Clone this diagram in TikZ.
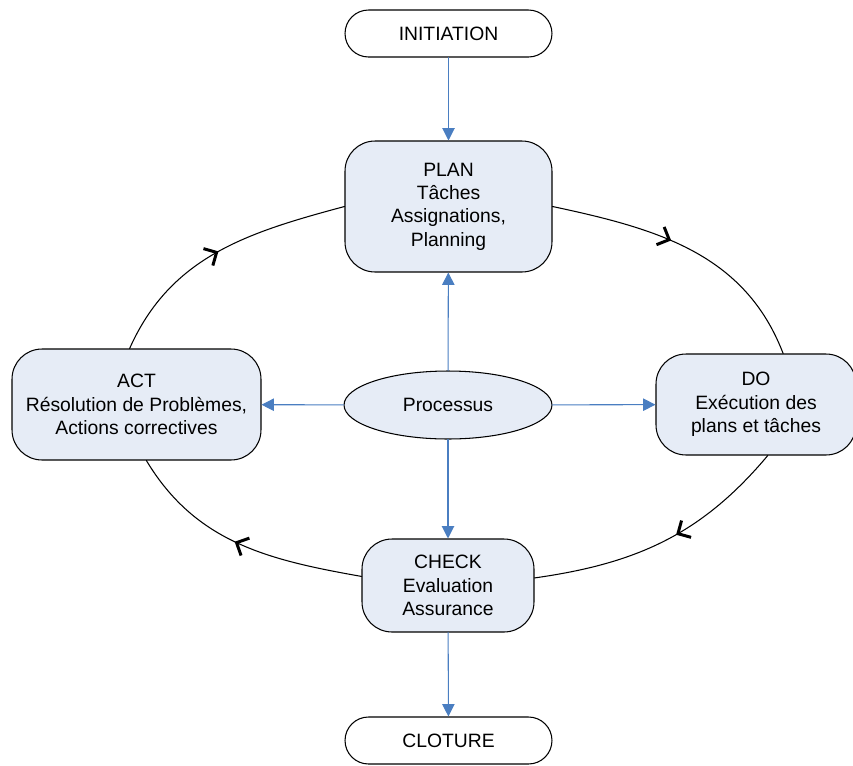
\documentclass[tikz,border=0pt]{standalone}
\usepackage{fontspec}
\setmainfont{Liberation Sans}
\usetikzlibrary{arrows.meta,shapes.geometric,decorations.markings}
\definecolor{boxfill}{RGB}{230,236,246}
\definecolor{linkblue}{RGB}{74,126,193}

\begin{document}
\begin{tikzpicture}[line cap=round,line join=round,x=0.02cm,y=-0.02cm,
  every node/.style={font=\fontsize{11}{13.3}\selectfont,align=center,inner sep=0pt,line width=0.6pt},
  endbox/.style={draw,rounded corners=0.47cm,minimum width=4.14cm,minimum height=0.94cm},
  phase/.style={draw,fill=boxfill,rounded corners=0.6cm},
  link/.style={draw=linkblue,line width=0.6pt,-{Triangle[length=7pt,width=7pt]}},
  loopedge/.style={draw,line width=0.6pt,postaction={decorate},
    decoration={markings,mark=at position #1 with {\arrow{Straight Barb[length=5.5pt,width=11pt,line width=1.7pt]}}}}]

\useasboundingbox (0,0) rectangle (853,765);

\node[endbox] (init) at (448.5,33.5) {INITIATION};
\node[phase,minimum width=4.14cm,minimum height=2.62cm] (plan) at (448.5,206.5) {PLAN\\Tâches\\Assignations,\\Planning};
\node[phase,minimum width=4cm,minimum height=2.02cm] (do) at (756,404.5) {DO\\Exécution des\\plans et tâches};
\node[phase,minimum width=4.98cm,minimum height=2.22cm] (act) at (136.5,404.5) {ACT\\Résolution de Problèmes,\\Actions correctives};
\node[phase,minimum width=3.44cm,minimum height=1.86cm] (check) at (448,585.5) {CHECK\\Evaluation\\Assurance};
\node[endbox] (clot) at (448.5,740.5) {CLOTURE};
\node[ellipse,draw,fill=boxfill,minimum width=4.16cm,minimum height=1.36cm] (proc) at (448,405) {Processus};

\draw[loopedge=0.5] (act.97) to[out=66,in=195] (plan.west);
\draw[loopedge=0.43] (plan.east) to[out=-12,in=111] (do.62);
\draw[loopedge=0.45] (do.-77) to[out=-130,in=8] (check.5);
\draw[loopedge=0.52] (check.174) to[out=170,in=-59] (act.-80);

\draw[link] (init) -- (plan);
\draw[link] (proc) -- (plan);
\draw[link] (proc) -- (act);
\draw[link] (proc) -- (do);
\draw[link] (proc) -- (check);
\draw[link] (check) -- (clot);

\end{tikzpicture}
\end{document}
